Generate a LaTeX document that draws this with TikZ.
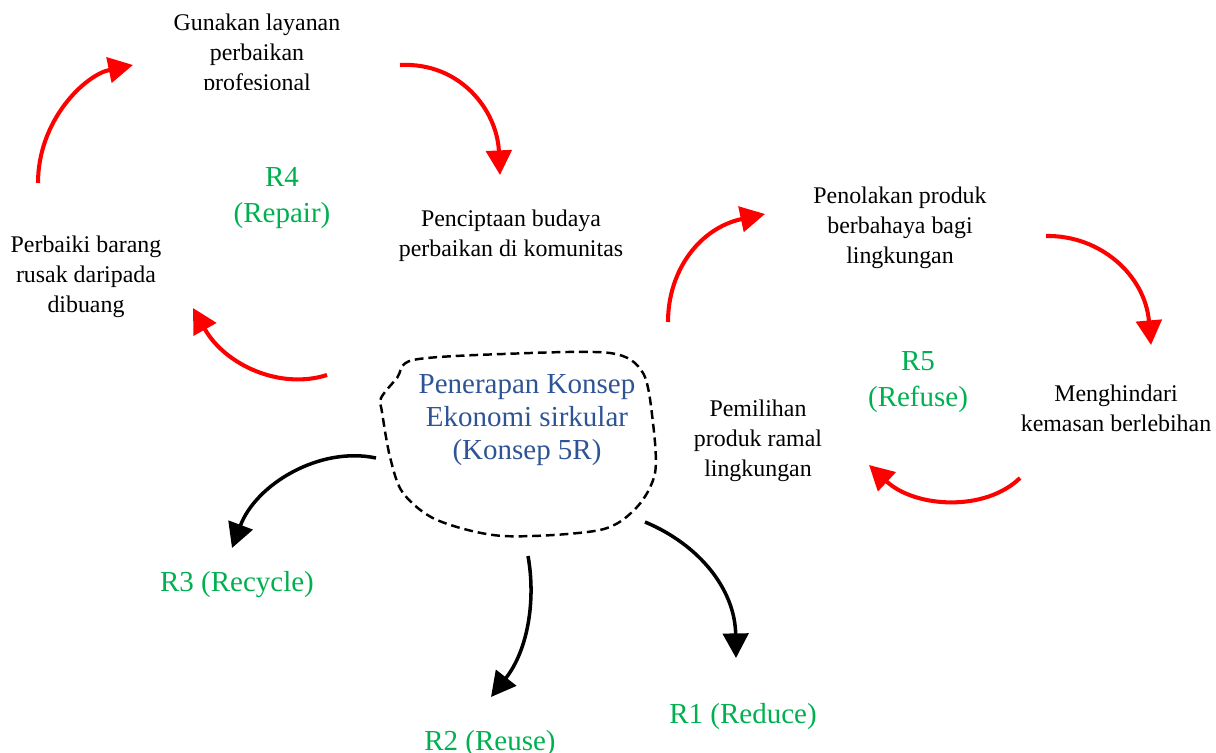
\documentclass[tikz,border=0pt]{standalone}
\usepackage{fontspec}
\setmainfont{Liberation Serif}
\usetikzlibrary{arrows.meta}
\definecolor{ecoInk}{HTML}{000000}
\definecolor{ecoRed}{HTML}{FF0000}
\definecolor{ecoGreen}{HTML}{00B050}
\definecolor{ecoBlue}{HTML}{2F5496}
\tikzset{
  every picture/.style={text=ecoInk},
  eco text/.style={align=center, inner sep=0pt, font=\fontsize{13.6}{17}\selectfont},
  eco label/.style={align=center, inner sep=0pt, text=ecoGreen,
    font=\fontsize{16.5}{20.4}\selectfont},
  eco core/.style={align=center, inner sep=0pt, text=ecoBlue,
    font=\fontsize{16.5}{19}\selectfont},
  eco blob/.style={draw=ecoInk, line width=1.4pt, dash pattern=on 5pt off 2.8pt},
  eco cycle/.style={-{Triangle[length=14pt,width=14.5pt]},
    draw=ecoRed, line width=2.3pt},
  eco branch/.style={-{Triangle[length=14pt,width=14.5pt]},
    draw=ecoInk, line width=2pt}
}

\begin{document}
\begin{tikzpicture}[x=0.02cm,y=-0.02cm]
  \useasboundingbox (0,0) rectangle (1216,753);
  \clip (0,0) rectangle (1216,753);

  % centre
  \draw[eco blob] plot[smooth cycle, tension=0.5] coordinates {
    (381,398) (397,378) (413,360) (503,354) (610,353) (643,373) (653,423)
    (655,473) (637,507) (600,530) (503,536) (437,520) (403,493) (390,457)
    (382,412)};
  \node[eco core] (core) at (527,420) {Penerapan Konsep\\Ekonomi sirkular\\(Konsep 5R)};

  % R4 (Repair)
  \begin{scope}
    \clip (140,0) rectangle (380,90);
    \node[eco text] (repairPro) at (257,55) {Gunakan layanan\\perbaikan\\profesional};
  \end{scope}
  \node[eco text] (repairItem) at (86,277) {Perbaiki barang\\rusak daripada\\dibuang};
  \node[eco text] (repairCulture) at (511,236) {Penciptaan budaya\\perbaikan di komunitas};
  \node[eco label] (labelRepair) at (282,198) {R4\\(Repair)};

  \coordinate (r4a) at (38,183);
  \coordinate (r4b) at (133,65);
  \coordinate (r4c) at (400,65);
  \coordinate (r4d) at (500,175);
  \coordinate (r4e) at (327,375);
  \coordinate (r4f) at (193,308);
  \draw[eco cycle] (r4a) .. controls (38,120) and (85,75) .. (r4b);
  \draw[eco cycle] (r4c) .. controls (460,62) and (497,110) .. (r4d);
  \draw[eco cycle] (r4e) .. controls (280,390) and (225,365) .. (r4f);

  % R5 (Refuse)
  \node[eco text] (refuseHarm) at (900,228) {Penolakan produk\\berbahaya bagi\\lingkungan};
  \node[eco text] (refuseWrap) at (1116,408) {Menghindari\\kemasan berlebihan};
  \node[eco text] (refuseChoice) at (758,441) {Pemilihan\\produk ramal\\lingkungan};
  \node[eco label] (labelRefuse) at (918,382) {R5\\(Refuse)};

  \coordinate (r5a) at (668,322);
  \coordinate (r5b) at (765,214);
  \coordinate (r5c) at (1046,236);
  \coordinate (r5d) at (1151,345);
  \coordinate (r5e) at (1020,478);
  \coordinate (r5f) at (869,465);
  \draw[eco cycle] (r5a) .. controls (668,270) and (700,228) .. (r5b);
  \draw[eco cycle] (r5c) .. controls (1100,235) and (1145,275) .. (r5d);
  \draw[eco cycle] (r5e) .. controls (985,512) and (915,508) .. (r5f);

  % R3, R2, R1
  \node[eco label] (labelRecycle) at (237,585) {R3 (Recycle)};
  \node[eco label] (labelReuse) at (490,744) {R2 (Reuse)};
  \node[eco label] (labelReduce) at (743,717) {R1 (Reduce)};

  \coordinate (b3a) at (376,458);
  \coordinate (b3b) at (232,548);
  \coordinate (b2a) at (528,556);
  \coordinate (b2b) at (491,697);
  \coordinate (b1a) at (645,522);
  \coordinate (b1b) at (736,658);
  \draw[eco branch] (b3a) .. controls (320,446) and (256,484) .. (b3b);
  \draw[eco branch] (b2a) .. controls (536,600) and (528,650) .. (b2b);
  \draw[eco branch] (b1a) .. controls (700,545) and (735,590) .. (b1b);
\end{tikzpicture}
\end{document}
